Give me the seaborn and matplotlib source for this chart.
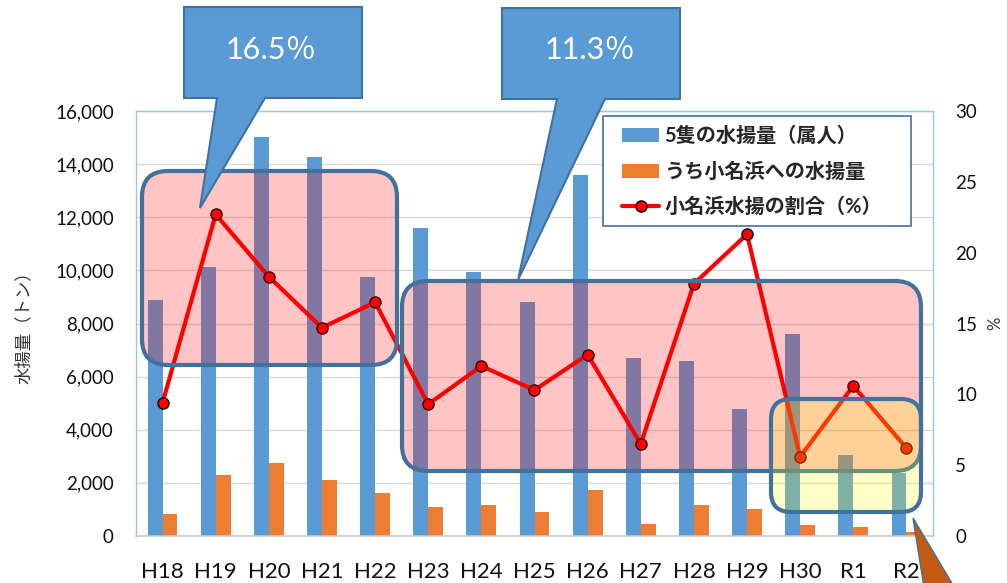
# Onahama landing chart - bars (catch) + line (share landed at Onahama)
import numpy as np
import pandas as pd
import seaborn as sns
import matplotlib.pyplot as plt
import matplotlib.transforms as mtransforms
from matplotlib.patches import FancyBboxPatch, Polygon, Patch, Rectangle
from matplotlib.lines import Line2D

# ------------------------------------------------
# Data

years = ['H18', 'H19', 'H20', 'H21', 'H22', 'H23', 'H24', 'H25',
         'H26', 'H27', 'H28', 'H29', 'H30', 'R1', 'R2']
catch_total = [8900, 10130, 15020, 14270, 9750, 11600, 9940, 8810,
               13590, 6700, 6590, 4780, 7600, 3050, 2370]
catch_onahama = [840, 2300, 2750, 2110, 1620, 1090, 1170, 910,
                 1730, 440, 1170, 1020, 430, 325, 150]
share_pct = [9.4, 22.7, 18.3, 14.7, 16.5, 9.3, 12.0, 10.3,
             12.8, 6.5, 17.8, 21.3, 5.6, 10.6, 6.2]

label_total = '5隻の水揚量（属人）'
label_onahama = 'うち小名浜への水揚量'
label_share = '小名浜水揚の割合（%）'
callout_texts = ['16.5％', '11.3％']

BLUE = '#5b9bd5'
ORANGE = '#ed7d31'
OUTLINE = '#41719c'

# ------------------------------------------------
# Setup

sns.set_style('white')
plt.rcParams['font.family'] = ['Lato', 'Noto Sans CJK JP', 'DejaVu Sans']

W, H, DPI = 1007, 583, 100
fig = plt.figure(figsize=(W / DPI, H / DPI), dpi=DPI)
ax = fig.add_axes([136 / W, 1 - 536 / H, (933 - 136) / W, (536 - 111) / H])

# pixel coords, origin top-left (for the drawn-on shapes)
pix = mtransforms.Affine2D().scale(1 / DPI, -1 / DPI).translate(0, H / DPI) + fig.dpi_scale_trans

df = pd.DataFrame({
    'year': years * 2,
    'value': catch_total + catch_onahama,
    'series': [label_total] * len(years) + [label_onahama] * len(years),
})
sns.barplot(data=df, x='year', y='value', hue='series',
            palette=[BLUE, ORANGE], width=0.56, gap=0, saturation=1,
            linewidth=0, legend=False, ax=ax)

ax.set_ylim(0, 16000)
ax.set_yticks(range(0, 16001, 2000))
ax.set_yticklabels([f'{v:,}' for v in range(0, 16001, 2000)])
ax.yaxis.grid(True, color='#d9d9d9', lw=1)
ax.set_axisbelow(True)
ax.set_xlabel('')
ax.set_ylabel('水揚量（トン）', fontsize=12.5, color='#333333', labelpad=17)
ax.tick_params(axis='y', length=0, labelsize=13.5, pad=16, labelcolor='#111111')
ax.tick_params(axis='x', length=0, labelsize=16, pad=19, labelcolor='#111111')
for side in ['left', 'right', 'top']:
    ax.spines[side].set_color('#9dc3e6')
    ax.spines[side].set_linewidth(1)
ax.spines['bottom'].set_color('#c3cbd6')
ax.spines['bottom'].set_linewidth(1.2)

ax2 = ax.twinx()
sns.lineplot(x=np.arange(len(years)), y=share_pct, ax=ax2, color='red', lw=3,
             marker='o', markersize=8, markerfacecolor='red',
             markeredgecolor='black', markeredgewidth=1)
ax2.set_ylim(0, 30)
ax2.set_yticks(range(0, 31, 5))
ax2.set_ylabel('%', fontsize=12, color='#333333', labelpad=7)
ax2.tick_params(axis='y', length=0, labelsize=13.5, pad=16, labelcolor='#111111')
for s in ax2.spines.values():
    s.set_visible(False)
ax.set_xlim(-0.5, len(years) - 0.5)

# ------------------------------------------------
# Highlight boxes

def rbox(x0, y0, x1, y1, color, alpha, rad):
    face = FancyBboxPatch((x0, y0), x1 - x0, y1 - y0,
                          boxstyle=f'round,pad=0,rounding_size={rad}',
                          transform=pix, facecolor=color, alpha=alpha,
                          edgecolor='none', zorder=2)
    edge = FancyBboxPatch((x0, y0), x1 - x0, y1 - y0,
                          boxstyle=f'round,pad=0,rounding_size={rad}',
                          transform=pix, facecolor='none',
                          edgecolor=OUTLINE, lw=3, zorder=2)
    fig.add_artist(face)
    fig.add_artist(edge)

rbox(142, 171, 397, 365, 'red', 0.23, 26)
rbox(402, 281, 921, 471, 'red', 0.23, 26)
rbox(771, 399, 921, 512, 'yellow', 0.22, 20)

# callouts
call1 = [(184, 7), (362, 7), (362, 98), (265, 98), (200, 208), (217, 98), (184, 98)]
call2 = [(502, 8), (680, 8), (680, 99), (605, 99), (518, 280), (557, 99), (502, 99)]
for pts in [call1, call2]:
    fig.add_artist(Polygon(pts, closed=True, transform=pix, facecolor=BLUE,
                           edgecolor=OUTLINE, lw=1.5, zorder=3))
fig.text(271, 50, callout_texts[0], transform=pix, ha='center', va='center',
         color='white', fontsize=22, zorder=4)
fig.text(590, 50, callout_texts[1], transform=pix, ha='center', va='center',
         color='white', fontsize=22, zorder=4)

fig.add_artist(Polygon([(913, 518), (962, 600), (926, 600)], closed=True,
                       transform=pix, facecolor='#c55a11', edgecolor=OUTLINE,
                       lw=1, zorder=3))

# legend (frame drawn separately)
fig.add_artist(Rectangle((603, 116), 308, 110, transform=pix, facecolor='white',
                         edgecolor=OUTLINE, lw=1.2, zorder=4.8))
handles = [Patch(facecolor=BLUE, edgecolor='none'),
           Patch(facecolor=ORANGE, edgecolor='none'),
           Line2D([], [], color='red', lw=3, marker='o', markersize=8,
                  markerfacecolor='red', markeredgecolor='black')]
leg = fig.legend(handles, [label_total, label_onahama, label_share],
                 loc='upper left', bbox_to_anchor=(622, 126),
                 bbox_transform=pix, borderaxespad=0, borderpad=0,
                 frameon=False, prop={'size': 14.5, 'weight': 'bold'},
                 handlelength=1.85, handletextpad=0.25, labelspacing=0.78)
leg.set_zorder(5)

fig.savefig('out.png', dpi=DPI)
